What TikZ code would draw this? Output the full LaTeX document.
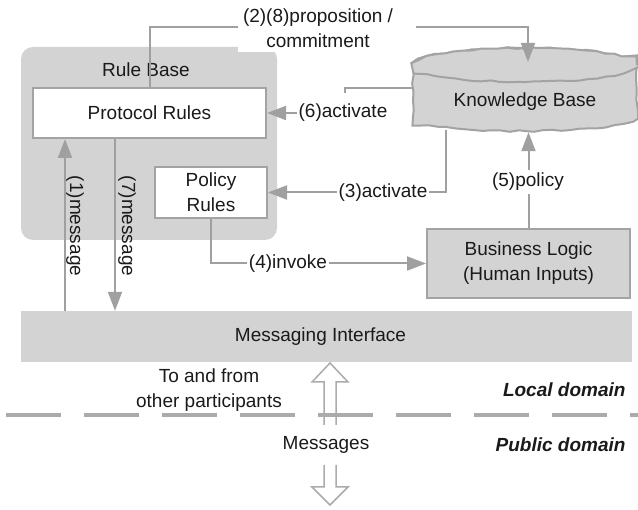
\documentclass[tikz,border=0pt]{standalone}
\usepackage{fontspec}
\setmainfont{Liberation Sans}
\usetikzlibrary{arrows.meta,decorations.pathmorphing}
\definecolor{boxgray}{HTML}{D3D3D3}
\definecolor{linegray}{HTML}{A0A0A0}
\definecolor{edgegray}{HTML}{A3A3A3}
\definecolor{dashgray}{HTML}{ABABAB}
\definecolor{txt}{HTML}{1A1A1A}
\begin{document}
\begin{tikzpicture}[x=1pt,y=-1pt,
  every node/.style={font=\fontsize{19}{25}\selectfont, text=txt},
  conn/.style={draw=linegray, line width=2pt},
  arr/.style={conn, -{Triangle[length=19pt,width=14pt]}},
  lbl/.style={fill=white, inner xsep=1.5pt, inner ysep=3pt},
  whitebox/.style={draw=edgegray, fill=white, line width=2pt, inner sep=0pt},
  graybox/.style={draw=edgegray, fill=boxgray, line width=2pt, inner sep=0pt},
  rotlbl/.style={rotate=-90, inner sep=0pt},
  hollow/.style={draw=dashgray, fill=white, line width=1.5pt, line join=miter},
  dashline/.style={draw=dashgray, line width=4.5pt, dash pattern=on 55pt off 23pt},
  domtxt/.style={anchor=east, font=\fontsize{19}{25}\selectfont\bfseries\itshape},
  kbline/.style={draw=edgegray, line width=2pt, fill=boxgray,
    decorate, decoration={random steps, segment length=9pt, amplitude=0.9pt}}
]
\useasboundingbox (0,0) rectangle (638,510);

% Rule base container
\node[fill=boxgray, rounded corners=12pt, minimum width=256pt, minimum height=193pt, inner sep=0pt] (RB) at (149,143.5) {};
\fill[white] (238,4) rectangle (416,52);
\node (RBt) at (146,70) {Rule Base};

% boxes
\node[whitebox, minimum width=233pt, minimum height=50pt] (PR) at (149.5,113) {Protocol Rules};
\node[whitebox, minimum width=112pt, minimum height=51pt, align=center] (PoR) at (211,192.5) {Policy\\Rules};
\node[graybox, minimum width=203pt, minimum height=69pt, align=center] (BL) at (528.5,263.5) {Business Logic\\(Human Inputs)};
\node[fill=boxgray, minimum width=611pt, minimum height=51pt, inner sep=0pt] (MI) at (326.5,336.5) {\hspace*{-12pt}Messaging Interface};

% knowledge base cylinder
\path[kbline] (413,65) -- (413,117) arc[start angle=180, end angle=360, x radius=112pt, y radius=14pt] -- (637,65) arc[start angle=0, end angle=180, x radius=112pt, y radius=17pt] -- cycle;
\path[kbline] (525,65) ellipse [x radius=112pt, y radius=17pt];
\node[minimum width=224pt, minimum height=60pt, inner sep=0pt] (KB) at (525,102) {Knowledge Base};

% coordinates
\coordinate (c28a) at (238,27);
\coordinate (c28b) at (416,27);
\coordinate (kbtop) at (528,62);
\coordinate (c6) at (413,88);
\coordinate (k6) at (345,113);
\coordinate (k3s) at (446,130);
\coordinate (x1) at (65,0);
\coordinate (x7) at (115,0);

% connectors
\draw[conn] (PR.north) |- (c28a);
\draw[arr] (c28b) -| (kbtop);
\draw[arr] (c6) -| (k6) -- (PR.east);
\draw[arr] (k3s) |- (PoR.east);
\draw[arr] (PoR.south) |- (BL.west);
\draw[arr] (BL.north) -- (BL.north |- KB.south);
\draw[arr] (MI.north -| x1) -- (PR.south -| x1);
\draw[arr] (PR.south -| x7) -- (MI.north -| x7);

% labels
\node[align=center] (L28) at (318,28) {(2)(8)proposition /\\commitment};
\node[lbl, minimum height=40pt] (L6) at (343,113) {(6)activate};
\node[lbl] (L3) at (383,193) {(3)activate};
\node[lbl] (L4) at (288,263.5) {(4)invoke};
\node[lbl] (L5) at (528,182) {(5)policy};
\node[rotlbl] (L1) at (75,226) {(1)message};
\node[rotlbl] (L7) at (127,226) {(7)message};

% hollow arrows
\path[hollow] (324,425) -- (324,382) -- (312,382) -- (330,363) -- (348,382) -- (336,382) -- (336,425);
\path[hollow] (324,465) -- (324,487) -- (312,487) -- (330,505) -- (348,487) -- (336,487) -- (336,465);

% domain separator
\coordinate (d0) at (6,415);
\coordinate (d1) at (640,415);
\draw[dashline] (d0) -- (d1);

% texts
\node[align=center] (TF) at (209,390) {To and from\\other participants};
\node (MSG) at (326,445) {Messages};
\node[domtxt] (LD) at (629,390) {Local domain};
\node[domtxt] (PD) at (629,445) {Public domain};
\end{tikzpicture}
\end{document}
